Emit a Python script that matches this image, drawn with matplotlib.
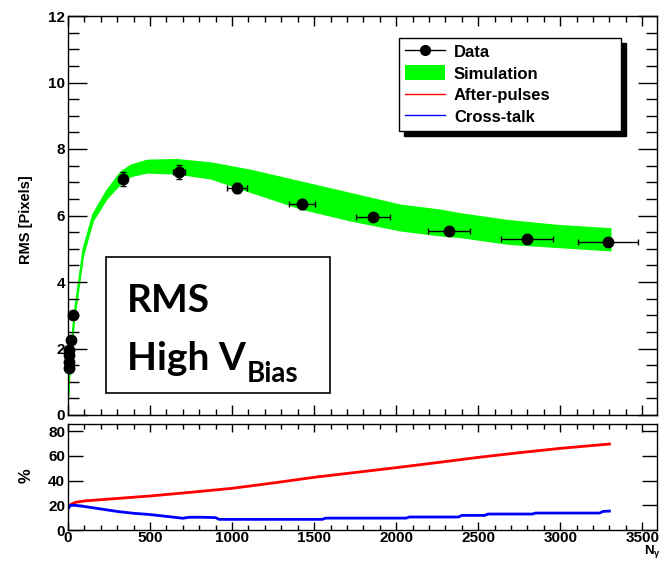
import matplotlib
matplotlib.use("Agg")
import matplotlib.pyplot as plt
from matplotlib.lines import Line2D
from matplotlib.patches import Patch, Rectangle

# Measured RMS (data points with errors)
data_n = [6, 7, 8, 9, 18, 32, 335, 677, 1030, 1427, 1860, 2323, 2799, 3293]
data_rms = [1.42, 1.6, 1.8, 1.95, 2.25, 3.0, 7.10, 7.31, 6.83, 6.35, 5.95, 5.53, 5.29, 5.21]
data_nerr = [1, 1, 1, 1, 2, 3, 19, 38, 58, 80, 104, 130, 157, 184]
data_rmserr = [0.05, 0.05, 0.05, 0.05, 0.05, 0.05, 0.2, 0.2, 0.15, 0.15, 0.1, 0.1, 0.1, 0.1]

# Simulation band (lower / upper edge)
sim_n = [0, 10, 20, 35, 55, 90, 150, 235, 320, 380, 480, 660, 870, 1110,
         1415, 1720, 2024, 2268, 2390, 2675, 2980, 3305]
sim_lo = [0.60, 1.50, 1.90, 2.90, 3.55, 4.80, 5.85, 6.52, 6.97, 7.19, 7.30,
          7.27, 7.12, 6.72, 6.22, 5.86, 5.56, 5.41, 5.36, 5.16, 5.06, 4.96]
sim_hi = [0.70, 1.65, 2.10, 3.05, 3.75, 5.00, 6.05, 6.77, 7.32, 7.52, 7.67,
          7.69, 7.59, 7.37, 7.02, 6.67, 6.32, 6.17, 6.06, 5.86, 5.71, 5.61]

# After-pulse and cross-talk fractions (%)
ap_n = [0, 20, 50, 100, 250, 500, 750, 1000, 1250, 1500, 1750, 2000, 2250,
        2500, 2750, 3000, 3300]
ap_pct = [18.5, 21, 22.5, 23.5, 25, 27.5, 30.5, 33.7, 38, 42.6, 46.5, 50.4,
          54.5, 58.7, 62.5, 66, 69.5]
ct_n = [0, 15, 40, 100, 200, 300, 400, 500, 600, 700, 740, 820, 900, 920,
        1550, 1570, 2060, 2080, 2380, 2400, 2540, 2560, 2830, 2850, 3240,
        3260, 3300]
ct_pct = [17.0, 20, 20, 19, 17, 15, 13.5, 12.5, 11, 9.5, 10.3, 10.3, 10.0,
          8.6, 8.6, 9.6, 9.6, 10.5, 10.5, 11.8, 11.8, 12.9, 12.9, 13.7, 13.7,
          15.0, 15.3]

plt.rcParams["font.family"] = ["Liberation Sans", "DejaVu Sans"]
plt.rcParams["font.weight"] = "bold"
plt.rcParams["mathtext.fontset"] = "custom"
plt.rcParams["mathtext.rm"] = "Liberation Sans:bold"
plt.rcParams["mathtext.it"] = "Liberation Sans:bold"
plt.rcParams["mathtext.bf"] = "Liberation Sans:bold"

W, H = 668, 562
fig = plt.figure(figsize=(W / 100, H / 100), dpi=100)
ax = fig.add_axes([68 / W, (H - 415) / H, 589 / W, 399 / H])
axr = fig.add_axes([68 / W, (H - 530) / H, 589 / W, 106 / H])

XMAX = 3590

# --- top panel ---
ax.fill_between(sim_n, sim_lo, sim_hi, color="#00ff00", lw=1.2, zorder=1)
ax.errorbar(data_n, data_rms, xerr=data_nerr, yerr=data_rmserr, fmt="o",
            color="black", ms=7.5, elinewidth=1, capsize=2.5, capthick=1,
            zorder=3, clip_on=False)
ax.set_xlim(0, XMAX)
ax.set_ylim(0, 12)
ax.set_xticks(range(0, 3501, 500))
ax.set_xticks(range(0, 3501, 100), minor=True)
ax.set_yticks(range(0, 13, 2))
ax.set_yticks([i * 0.5 for i in range(25)], minor=True)
ax.tick_params(axis="x", which="major", direction="in", length=7, width=1,
               top=True, bottom=True, labelbottom=False)
ax.tick_params(axis="x", which="minor", direction="in", length=4, width=1,
               top=True, bottom=True)
ax.tick_params(axis="y", which="major", direction="in", length=14, width=1,
               left=True, right=True, labelsize=11, pad=2)
ax.tick_params(axis="y", which="minor", direction="in", length=8, width=1,
               left=True, right=True)
ax.set_ylabel("RMS [Pixels]", fontsize=10.5, fontweight="bold")
ax.yaxis.set_label_coords(-0.059, 0.49)
for s in ax.spines.values():
    s.set_linewidth(1)

handles = [
    Line2D([], [], color="black", marker="o", ms=7, lw=1),
    Patch(facecolor="#00ff00", edgecolor="none"),
    Line2D([], [], color="red", lw=1),
    Line2D([], [], color="blue", lw=1),
]
labels = ["Data", "Simulation", "After-pulses", "Cross-talk"]
leg = ax.legend(handles, labels, loc="upper left",
                bbox_to_anchor=(0.562, 0.717, 0.377, 0.228), mode="expand",
                borderaxespad=0, fontsize=12, frameon=True, fancybox=False,
                edgecolor="black", framealpha=1, handlelength=2.4,
                handleheight=1.0, handletextpad=0.55, labelspacing=0.33,
                borderpad=0.35,
                shadow={"ox": 3.6, "oy": -3.6, "shade": 1.0, "alpha": 1})
leg.get_frame().set_linewidth(1)

box = Rectangle((0.0645, 0.0551), 0.3803, 0.3409, transform=ax.transAxes,
                facecolor="white", edgecolor="black", lw=1.2, zorder=4)
ax.add_patch(box)
big = dict(family="Lato", fontweight="bold", fontsize=28, color="black",
           transform=ax.transAxes, va="baseline", ha="left", zorder=5)
ax.text(0.1, 0.258, "RMS", **big)
t_high = ax.text(0.1, 0.113, "High V", **big)
ax.annotate("Bias", xy=(1.0, 0.0827), xycoords=(t_high, "axes fraction"),
            xytext=(1, 0), textcoords="offset points", family="Lato",
            fontweight="bold", fontsize=20, va="baseline", ha="left",
            zorder=5)

# --- bottom panel ---
axr.plot(ap_n, ap_pct, color="red", lw=2)
axr.plot(ct_n, ct_pct, color="blue", lw=2)
axr.set_xlim(0, XMAX)
axr.set_ylim(0, 85.7)
axr.set_xticks(range(0, 3501, 500))
axr.set_xticks(range(0, 3501, 100), minor=True)
axr.set_yticks(range(0, 81, 20))
axr.tick_params(axis="x", which="major", direction="in", length=6, width=1,
                top=True, bottom=True, labelsize=11, pad=0.5)
axr.tick_params(axis="x", which="minor", direction="in", length=3.5, width=1,
                top=True, bottom=True)
axr.tick_params(axis="y", which="major", direction="in", length=11, width=1,
                left=True, right=True, labelsize=11, pad=2)
axr.set_ylabel("%", fontsize=12, fontweight="bold")
axr.yaxis.set_label_coords(-0.059, 0.51)
for s in axr.spines.values():
    s.set_linewidth(1)

fig.text(652 / W, 1 - 560 / H, r"$\mathrm{N}_{\gamma}$", fontsize=9.5,
         ha="center", va="bottom")

fig.savefig("out.png", dpi=100)
